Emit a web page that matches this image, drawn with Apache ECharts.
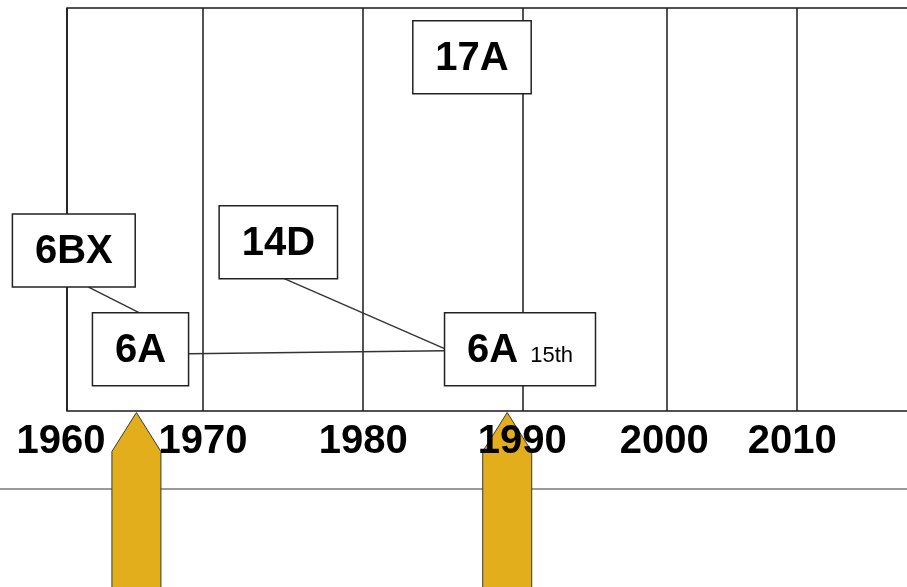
<!DOCTYPE html>
<html><head><meta charset="utf-8">
<script src="https://cdn.jsdelivr.net/npm/echarts@6/dist/echarts.min.js"></script>
<style>html,body{margin:0;padding:0;background:#fff}#c{width:907px;height:587px}</style>
</head><body><div id="c"></div>
<script>
// ---- data ----
const tickYears = [1960, 1970, 1980, 1990, 2000, 2010];
const tickLabels = ['1960', '1970', '1980', '1990', '2000', '2010'];
const boxLabels = ['17A', '6BX', '14D', '6A', '6A'];
const boxSubs = ['', '', '', '', '15th'];
const boxYears = [1986.8, 1960.5, 1974.7, 1965.4, 1989.8];
const boxLevels = [87.8, 39.8, 41.9, 15.3, 15.3];
const linkFrom = [1, 2, 3];
const linkTo = [3, 4, 4];
const arrowYears = [1965.1, 1989.0];

// ---- layout / style ----
const decadeWeights = [0.932, 1.096, 1.096, 0.986, 0.890];
const labelShift = [-6, 0, 0, -1, -3, -5];
const FONT = '"Liberation Sans", Arial, sans-serif';
const MAIN_SIZE = 40, SUB_SIZE = 22, PAD_X = 22.5, BOX_H = 73, SUB_GAP = 12, TEXT_DY = 1.5;
const linkAnchors = [
  [['bottom', 0.62], ['top', 0.49]],
  [['bottom', 0.55], ['left', 0.49]],
  [['right', 0.56], ['left', 0.52]]
];

function warp(y) {
  let u = 1960;
  for (let i = 0; i < decadeWeights.length; i++) {
    const s = 1960 + 10 * i;
    if (y < s + 10 || i === decadeWeights.length - 1) return u + (y - s) * decadeWeights[i];
    u += 10 * decadeWeights[i];
  }
}
const tickU = tickYears.map(warp);
function nearestIdx(v) {
  let bi = 0, bd = Infinity;
  tickU.forEach((t, i) => { const d = Math.abs(t - v); if (d < bd) { bd = d; bi = i; } });
  return bi;
}
const richStyles = {};
labelShift.forEach((s, i) => {
  richStyles['t' + i] = { fontSize: MAIN_SIZE, fontWeight: 'bold', fontFamily: FONT, color: '#000',
    padding: s < 0 ? [0, -2 * s, 0, 0] : [0, 0, 0, 2 * s] };
});
const mctx = document.createElement('canvas').getContext('2d');
function tw(text, size, bold) { mctx.font = (bold ? 'bold ' : '') + size + 'px ' + FONT; return mctx.measureText(text).width; }
function boxGeom(i, api) {
  const c = api.coord([warp(boxYears[i]), boxLevels[i]]);
  const mw = tw(boxLabels[i], MAIN_SIZE, true);
  const sw = boxSubs[i] ? SUB_GAP + tw(boxSubs[i], SUB_SIZE, false) : 0;
  const w = mw + sw + 2 * PAD_X;
  return { cx: c[0], cy: c[1], w: w, h: BOX_H, x: c[0] - w / 2, y: c[1] - BOX_H / 2, mw: mw };
}
function anchor(g, side, f) {
  if (side === 'bottom') return [g.x + g.w * f, g.y + g.h];
  if (side === 'top') return [g.x + g.w * f, g.y];
  if (side === 'left') return [g.x, g.y + g.h * f];
  return [g.x + g.w, g.y + g.h * f];
}

const chart = echarts.init(document.getElementById('c'), null, { renderer: 'canvas' });
chart.setOption({
  animation: false,
  backgroundColor: '#fff',
  grid: { left: 67, right: -7, top: 8, bottom: 176, show: true, borderColor: '#1a1a1a', borderWidth: 1.5,
          backgroundColor: 'transparent', containLabel: false, outerBoundsMode: 'none' },
  xAxis: {
    type: 'value', min: 1960, max: 2018, z: 3,
    axisLine: { show: false },
    axisTick: { show: false, customValues: tickU },
    axisLabel: { customValues: tickU, formatter: v => { const i = nearestIdx(v); return '{t' + i + '|' + tickLabels[i] + '}'; },
                 rich: richStyles, margin: 11, color: '#000',
                 fontSize: MAIN_SIZE, fontWeight: 'bold', fontFamily: FONT, showMinLabel: true, showMaxLabel: true, hideOverlap: false },
    splitLine: { show: true, lineStyle: { color: '#1a1a1a', width: 1.5 } }
  },
  yAxis: { type: 'value', min: 0, max: 100, show: false, splitLine: { show: false } },
  graphic: [{ type: 'line', z: 0, shape: { x1: 0, y1: 489, x2: 907, y2: 489 }, style: { stroke: '#9a9a9a', lineWidth: 2 } }],
  series: [
    {
      type: 'custom', name: 'arrows', z: 1, clip: false, silent: true,
      data: arrowYears.map(y => [warp(y), 0]),
      renderItem: function (params, api) {
        const tip = api.coord([api.value(0), 0]);
        const x = tip[0], y = tip[1] + 1.5, hw = 24.5, sh = 39, bottom = api.getHeight() + 10;
        return { type: 'polygon', shape: { points: [[x, y], [x + hw, y + sh], [x + hw, bottom], [x - hw, bottom], [x - hw, y + sh]] },
                 style: { fill: '#E3AE1B', stroke: '#3a3a3a', lineWidth: 1 } };
      }
    },
    {
      type: 'custom', name: 'links', z: 4, clip: false, silent: true,
      data: linkFrom.map((f, k) => [warp(boxYears[f]), boxLevels[f], k]),
      renderItem: function (params, api) {
        const k = api.value(2);
        const a = linkAnchors[k];
        const p1 = anchor(boxGeom(linkFrom[k], api), a[0][0], a[0][1]);
        const p2 = anchor(boxGeom(linkTo[k], api), a[1][0], a[1][1]);
        return { type: 'line', shape: { x1: p1[0], y1: p1[1], x2: p2[0], y2: p2[1] }, style: { stroke: '#333', lineWidth: 1.4 } };
      }
    },
    {
      type: 'custom', name: 'boxes', z: 5, clip: false, silent: true,
      data: boxLabels.map((l, i) => [warp(boxYears[i]), boxLevels[i], i]),
      renderItem: function (params, api) {
        const i = api.value(2);
        const g = boxGeom(i, api);
        const ty = g.cy + TEXT_DY;
        const children = [
          { type: 'rect', shape: { x: g.x, y: g.y, width: g.w, height: g.h }, style: { fill: '#fff', stroke: '#222', lineWidth: 1.5 } },
          { type: 'text', style: { text: boxLabels[i], x: g.x + PAD_X, y: ty, font: 'bold ' + MAIN_SIZE + 'px ' + FONT, fill: '#000', align: 'left', verticalAlign: 'middle' } }
        ];
        if (boxSubs[i]) {
          children.push({ type: 'text', style: { text: boxSubs[i], x: g.x + PAD_X + g.mw + SUB_GAP, y: ty + 0.31 * (MAIN_SIZE - SUB_SIZE),
            font: SUB_SIZE + 'px ' + FONT, fill: '#000', align: 'left', verticalAlign: 'middle' } });
        }
        return { type: 'group', children: children };
      }
    }
  ]
});
</script></body></html>
